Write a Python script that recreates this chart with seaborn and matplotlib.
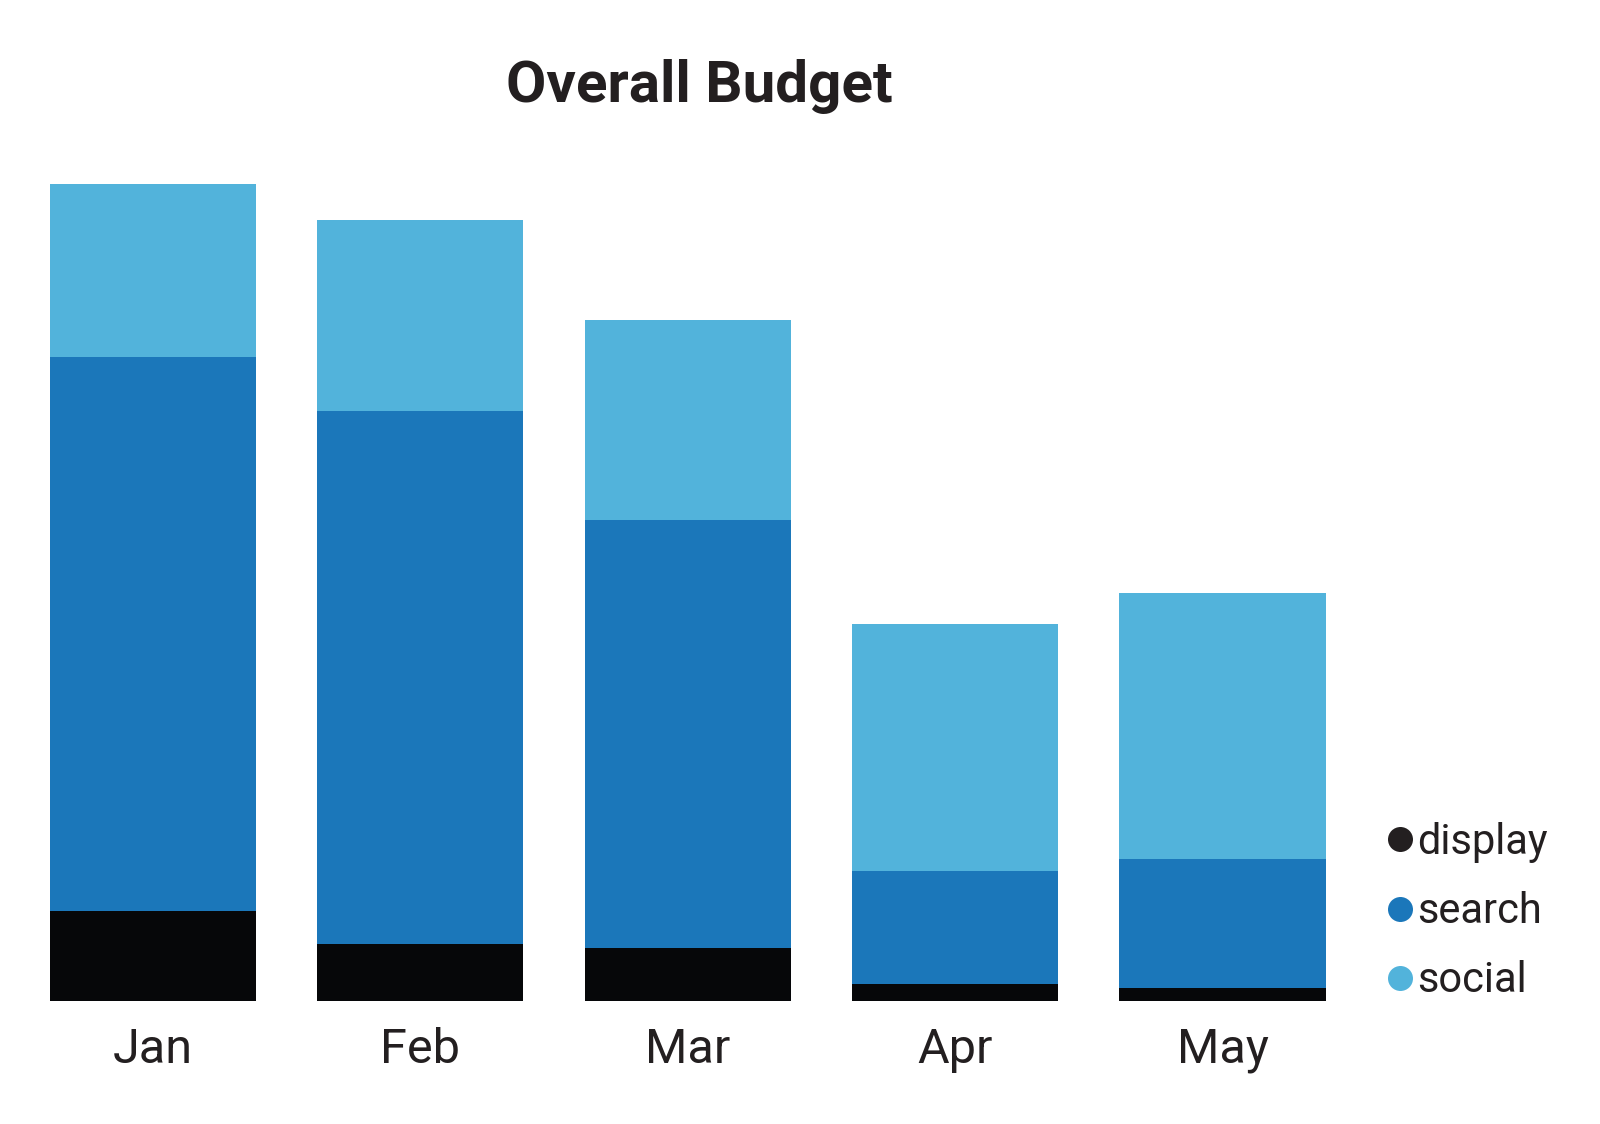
import matplotlib
matplotlib.use("Agg")
import matplotlib.pyplot as plt
from matplotlib.lines import Line2D
import numpy as np
import seaborn as sns

months = ["Jan", "Feb", "Mar", "Apr", "May"]
display = [90, 57, 53, 17, 13]
search = [554, 533, 428, 113, 129]
social = [173, 191, 200, 247, 266]

series = ["display", "search", "social"]
colors = {"display": "#060709", "search": "#1B77BA", "social": "#52B3DB"}
legend_colors = {"display": "#231F20", "search": "#1B77BA", "social": "#52B3DB"}

sns.set_theme(style="white")
plt.rcParams["font.family"] = ["Roboto", "DejaVu Sans"]

W, H = 1600, 1124
fig = plt.figure(figsize=(W / 100, H / 100), dpi=100)
# axes placed in pixel terms: bars span x 50..1325, baseline at y 1000.7
ax = fig.add_axes([50 / W, (H - 1000.7) / H, 1275.5 / W, 820 / H])

bottom = np.zeros(len(months))
for name, vals in zip(series, [display, search, social]):
    sns.barplot(x=months, y=vals, bottom=bottom, color=colors[name],
                saturation=1, width=0.771, linewidth=0, ax=ax)
    bottom += np.array(vals)

ax.set_xlim(-0.385, 4.385)
ax.set_ylim(0, 820)
ax.set_yticks([])
ax.set_xlabel("")
ax.set_ylabel("")
sns.despine(ax=ax, left=True, bottom=True)
ax.tick_params(axis="x", length=0, pad=19, labelsize=35, labelcolor="#231F20")

fig.text(699 / W, 1 - 86 / H, "Overall Budget", ha="center", va="center",
         fontsize=42, fontweight="bold", color="#231F20")

handles = [Line2D([], [], marker="o", linestyle="", markersize=18,
                  markerfacecolor=legend_colors[s], markeredgewidth=0)
           for s in series]
fig.legend(handles, series, loc="upper left", bbox_to_anchor=(1367 / W, 1 - 801 / H),
           frameon=False, fontsize=30, handlelength=0.6, handletextpad=0.1,
           labelspacing=0.68, borderpad=0, labelcolor="#231F20")

fig.savefig("out.png", dpi=100, facecolor="white")
